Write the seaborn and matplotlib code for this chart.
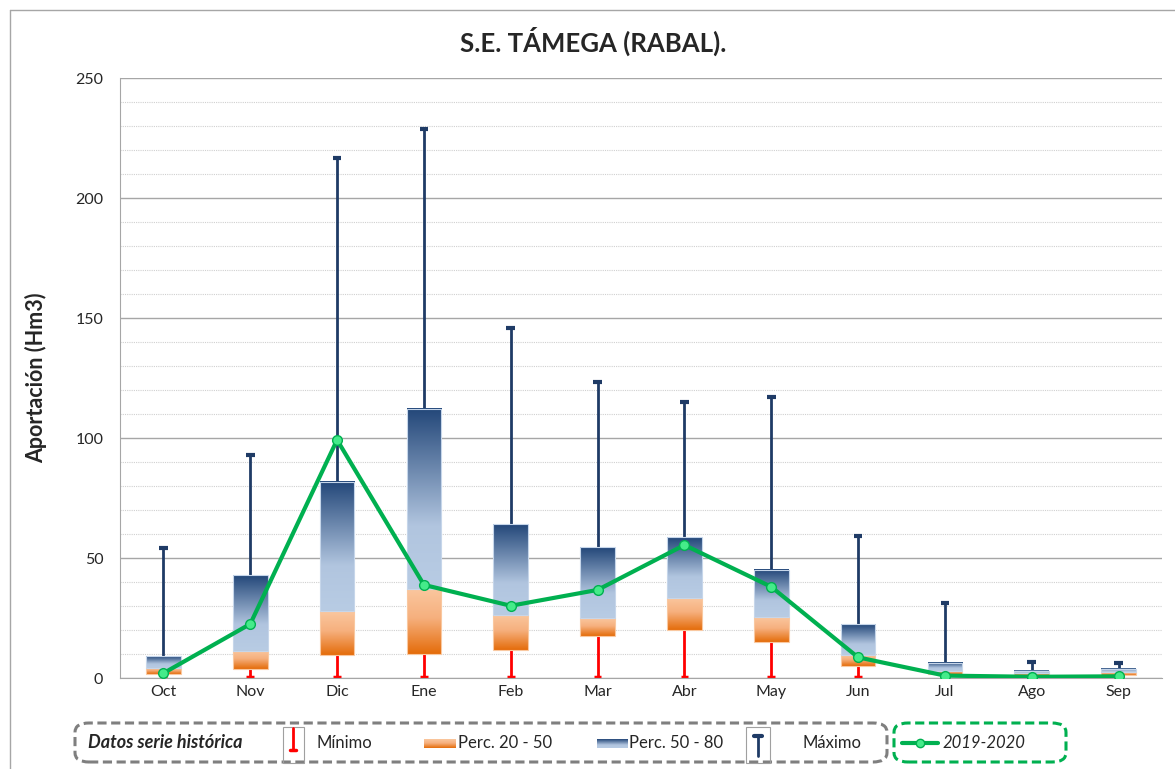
import numpy as np
import seaborn as sns
import matplotlib.pyplot as plt
from matplotlib.colors import LinearSegmentedColormap
from matplotlib.patches import FancyBboxPatch, Rectangle
from matplotlib.lines import Line2D

# Monthly inflow data (Hm3)
months = ["Oct", "Nov", "Dic", "Ene", "Feb", "Mar", "Abr", "May", "Jun", "Jul", "Ago", "Sep"]
minimo = [0.3, 0.3, 0.3, 0.3, 0.3, 0.3, 0.3, 0.3, 0.3, 0.3, 0.3, 0.3]
perc20 = [1.5, 3.6, 9.6, 9.9, 11.7, 17.5, 19.9, 15.0, 5.0, 1.7, 1.2, 1.3]
perc50 = [4.3, 11.4, 27.9, 37.0, 26.3, 24.9, 33.5, 25.3, 9.6, 3.0, 2.0, 2.5]
perc80 = [9.2, 42.9, 81.8, 112.1, 64.0, 54.4, 58.8, 44.9, 22.4, 6.4, 3.0, 3.9]
maximo = [54.2, 92.9, 216.7, 228.8, 145.8, 123.3, 115.0, 117.0, 59.2, 31.1, 6.7, 6.1]
serie_2019_2020 = [2.0, 22.5, 99.2, 38.8, 30.1, 36.7, 55.4, 38.0, 8.6, 1.0, 0.5, 0.7]

sns.set_style("white")
plt.rcParams["font.family"] = ["Lato", "DejaVu Sans"]

fig = plt.figure(figsize=(11.75, 7.69), dpi=100)
ax = fig.add_axes([120 / 1175, 1 - 678 / 769, 1042 / 1175, 600 / 769])

orange = LinearSegmentedColormap.from_list(
    "orange", [(0, "#E46C0A"), (0.55, "#F6B07E"), (1, "#FAC79F")])
blue = LinearSegmentedColormap.from_list(
    "blue", [(0, "#B8CCE4"), (0.35, "#B1C5DF"), (1, "#234779")])
grad = np.linspace(0, 1, 256).reshape(-1, 1)

w = 0.4
x = np.arange(len(months))
for i in x:
    # min whisker (red) and max whisker (navy)
    ax.vlines(i, minimo[i], perc20[i], color="#FF0000", lw=2, zorder=2)
    ax.hlines(minimo[i], i - 0.045, i + 0.045, color="#FF0000", lw=2.5, zorder=2)
    ax.vlines(i, perc80[i], maximo[i], color="#1F3B66", lw=2, zorder=2)
    ax.hlines(maximo[i], i - 0.05, i + 0.05, color="#1F3B66", lw=3, zorder=2)
    # gradient boxes
    ax.imshow(grad, cmap=orange, origin="lower", aspect="auto", interpolation="bicubic",
              extent=(i - w / 2, i + w / 2, perc20[i], perc50[i]), zorder=3)
    ax.imshow(grad, cmap=blue, origin="lower", aspect="auto", interpolation="bicubic",
              extent=(i - w / 2, i + w / 2, perc50[i], perc80[i]), zorder=3)
    ax.add_patch(Rectangle((i - w / 2, perc20[i]), w, perc50[i] - perc20[i],
                           fill=False, ec="#F9C8A0", lw=0.8, zorder=3))
    ax.add_patch(Rectangle((i - w / 2, perc50[i]), w, perc80[i] - perc50[i],
                           fill=False, ec="#C6D6EA", lw=0.8, zorder=3))

sns.lineplot(x=x, y=serie_2019_2020, ax=ax, color="#00B050", lw=3, marker="o",
             markersize=7, markerfacecolor="#45EB8A", markeredgecolor="#00B050",
             markeredgewidth=1, zorder=5)

ax.set_xlim(-0.5, 11.5)
ax.set_ylim(0, 250)
ax.set_yticks(np.arange(0, 251, 50))
ax.set_yticks(np.arange(0, 251, 10), minor=True)
ax.grid(axis="y", which="major", color="#A6A6A6", lw=1, zorder=0)
ax.grid(axis="y", which="minor", color="#D0D0D0", lw=0.8, ls=(0, (1, 1)), zorder=0)
ax.set_axisbelow(True)
ax.set_xticks(x)
ax.set_xticklabels(months)
ax.set_xticks(np.arange(-0.5, 12, 1), minor=True)
ax.tick_params(axis="x", which="major", length=0, labelsize=11.5, pad=5)
ax.tick_params(axis="x", which="minor", length=6, color="#A6A6A6", direction="out")
ax.tick_params(axis="y", which="major", length=5, color="#A6A6A6", labelsize=11.5, pad=7)
ax.tick_params(axis="y", which="minor", length=0)
for s in ["top", "right"]:
    ax.spines[s].set_visible(False)
for s in ["left", "bottom"]:
    ax.spines[s].set_color("#A6A6A6")
ax.set_xlabel("")
ax.set_ylabel("Aportación (Hm3)", fontsize=15.5, fontweight="bold", labelpad=20)

fig.text(593 / 1175, 1 - 41 / 769, "S.E. TÁMEGA (RABAL).", ha="center", va="center",
         fontsize=18.5, fontweight="bold")

# outer chart frame
fig.add_artist(Line2D([10 / 1175, 10 / 1175], [0, 1 - 10 / 769], color="#A6A6A6", lw=1))
fig.add_artist(Line2D([10 / 1175, 1], [1 - 10 / 769, 1 - 10 / 769], color="#A6A6A6", lw=1))

# custom legend at the bottom
def fx(px):
    return px / 1175

def fy(py):
    return 1 - py / 769

fig.add_artist(FancyBboxPatch((fx(75), fy(762)), fx(812), 39 / 769,
                              boxstyle="round,pad=0,rounding_size=0.012",
                              transform=fig.transFigure, fill=False,
                              ec="#7F7F7F", lw=2.2, ls=(0, (3, 1.5))))
fig.add_artist(FancyBboxPatch((fx(894), fy(762)), fx(172), 39 / 769,
                              boxstyle="round,pad=0,rounding_size=0.012",
                              transform=fig.transFigure, fill=False,
                              ec="#00B050", lw=2.2, ls=(0, (3, 1.5))))
ly = fy(743)
fig.text(fx(88), ly, "Datos serie histórica", fontsize=13, fontweight="bold",
         style="italic", va="center")
# Minimo icon
fig.add_artist(Rectangle((fx(283), fy(763)), fx(21), 36 / 769, transform=fig.transFigure,
                         fill=False, ec="#A0A0A0", lw=0.8))
fig.add_artist(Line2D([fx(293), fx(293)], [fy(728), fy(750)], color="#FF0000", lw=2))
fig.add_artist(Line2D([fx(290), fx(296)], [fy(750), fy(750)], color="#FF0000", lw=2.5))
fig.text(fx(317), ly, "Mínimo", fontsize=12, va="center")
# Perc 20-50 icon
cax1 = fig.add_axes([fx(424), fy(748), fx(32), 9 / 769])
cax1.imshow(grad, cmap=orange, origin="lower", aspect="auto")
cax1.axis("off")
fig.text(fx(458), ly, "Perc. 20 - 50", fontsize=12, va="center")
cax2 = fig.add_axes([fx(597), fy(748), fx(31), 9 / 769])
cax2.imshow(grad, cmap=blue, origin="lower", aspect="auto")
cax2.axis("off")
fig.text(fx(629), ly, "Perc. 50 - 80", fontsize=12, va="center")
# Maximo icon
fig.add_artist(Rectangle((fx(746), fy(763)), fx(24), 36 / 769, transform=fig.transFigure,
                         fill=False, ec="#A0A0A0", lw=0.8))
fig.add_artist(Line2D([fx(758), fx(758)], [fy(736), fy(756)], color="#1F3B66", lw=2))
fig.add_artist(Line2D([fx(754), fx(762)], [fy(736), fy(736)], color="#1F3B66", lw=3))
fig.text(fx(803), ly, "Máximo", fontsize=12, va="center")
# 2019-2020 icon
fig.add_artist(Line2D([fx(902), fx(938)], [ly, ly], color="#00B050", lw=3))
fig.add_artist(Line2D([fx(920)], [ly], color="#00B050", marker="o", markersize=6,
                      markerfacecolor="#45EB8A", markeredgecolor="#00B050", lw=0))
fig.text(fx(943), ly, "2019-2020", fontsize=12, style="italic", va="center")

plt.savefig("out.png", dpi=100)
